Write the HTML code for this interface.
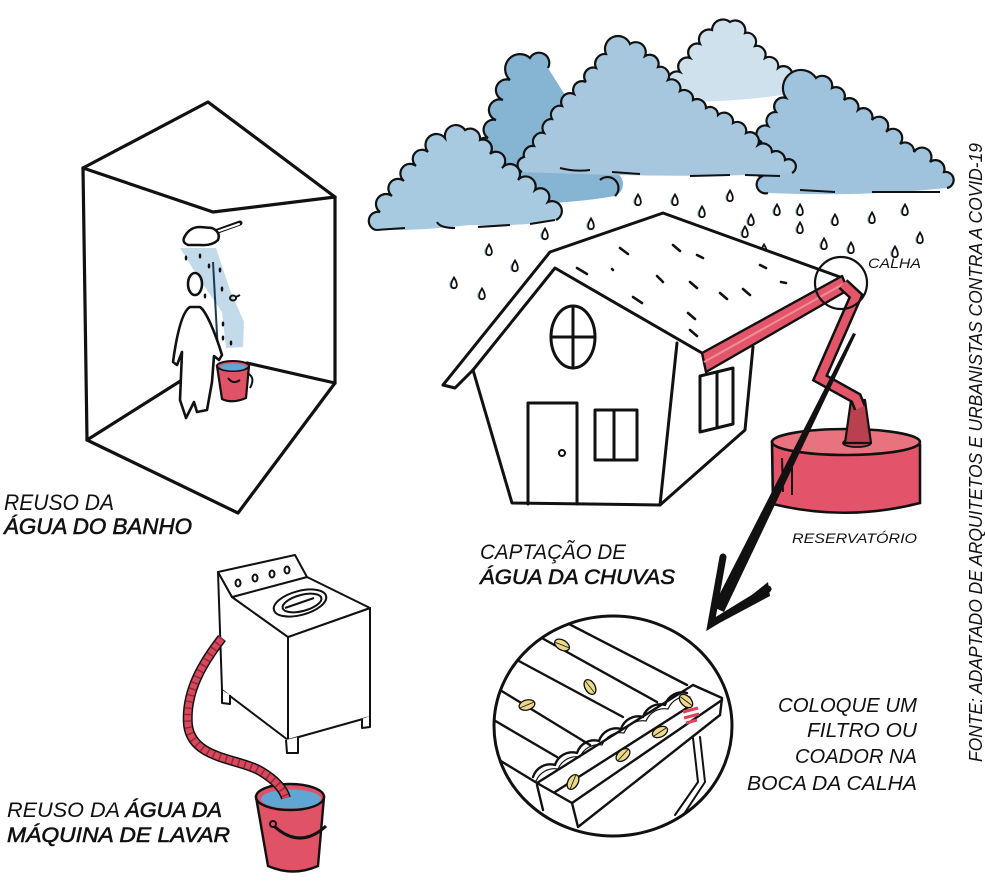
<!DOCTYPE html>
<html><head><meta charset="utf-8"><style>
html,body{margin:0;padding:0;background:#fff;}
svg{display:block;}
text{font-family:"Liberation Sans",sans-serif;font-style:italic;fill:#111;}
</style></head><body>
<svg width="985" height="881" viewBox="0 0 985 881" xmlns="http://www.w3.org/2000/svg">
<defs>
<g id="dr"><ellipse cx="-1.5" cy="1.5" rx="3.5" ry="4.5" fill="#a9cce2"/><path d="M0,-5.5 C2.2,-2 3,0.5 2.8,2.4 A2.8,2.8 0 0 1 -2.8,2.4 C-3,0.5 -2.2,-2 0,-5.5Z" fill="#fff" stroke="#111" stroke-width="1.8"/></g>
<g id="lf"><ellipse cx="0" cy="0" rx="8" ry="5" fill="#ecd98a" stroke="#111" stroke-width="1.3"/><path d="M-7,1 L7,-1" stroke="#111" stroke-width="0.8"/></g>
<clipPath id="cc"><ellipse cx="613" cy="726" rx="118" ry="109"/></clipPath>
</defs>

<!-- ============ SHOWER BOX ============ -->
<g fill="none" stroke="#111" stroke-width="3.2" stroke-linejoin="round" stroke-linecap="round">
<path d="M83,168 L208,102 L335,197"/>
<path d="M83,168 L213,212 L335,197"/>
<path d="M83,168 L87,440"/>
<path d="M335,197 L335,383"/>
<path d="M87,440 L182,380"/>
<path d="M335,383 L247,363"/>
<path d="M87,440 L238,513 L335,383"/>
</g>
<path d="M180,248 L216,248 L230,290 L244,322 L243,347 L226,348 L222,312 L200,280 Z" fill="#c2daea"/>
<path d="M213,262 L218,352" stroke="#1b3a55" stroke-width="2"/>
<path d="M215,232 L240,223" stroke="#111" stroke-width="5" stroke-linecap="round"/>
<path d="M216,232 L239,224" stroke="#fff" stroke-width="2" stroke-linecap="round"/>
<path d="M185,236 Q190,227 200,227 L212,228 Q221,232 218,240 Q212,246 200,245 L188,245 Q181,242 185,236Z" fill="#fff" stroke="#111" stroke-width="2.5"/>
<g fill="#111">
<ellipse cx="186" cy="258" rx="1.3" ry="2.5"/><ellipse cx="200" cy="256" rx="1.3" ry="2.5"/>
<ellipse cx="209" cy="266" rx="1.3" ry="2.5"/><ellipse cx="220" cy="270" rx="1.3" ry="2.5"/>
<ellipse cx="222" cy="289" rx="1.3" ry="2.5"/><ellipse cx="205" cy="296" rx="1.3" ry="2.5"/>
<ellipse cx="223" cy="324" rx="1.3" ry="2.5"/><ellipse cx="223" cy="338" rx="1.3" ry="2.5"/>
<ellipse cx="231" cy="343" rx="1.3" ry="2.5"/>
</g>
<g fill="none" stroke="#111" stroke-width="2"><ellipse cx="233" cy="298" rx="3" ry="2.5"/><path d="M236,297 L240,295"/></g>
<ellipse cx="195" cy="284" rx="7" ry="11" fill="#fff" stroke="#111" stroke-width="2.6"/>
<path d="M190,307 C181,312 176,340 173,362 L177,365 L182,352 L180,400 L186,418 L194,402 L197,412 L207,410 L212,382 L214,356 L219,360 L222,355 C215,332 206,311 200,307 Z" fill="#fff" stroke="#111" stroke-width="2.6" stroke-linejoin="round"/>
<path d="M217,366 L222,399 Q232,404 246,398 L249,366 Z" fill="#e05266" stroke="#111" stroke-width="2.2"/>
<ellipse cx="233" cy="366" rx="16" ry="5" fill="#e05266" stroke="#111" stroke-width="2"/>
<ellipse cx="233" cy="367" rx="13" ry="3.5" fill="#5fa6d3"/>
<path d="M247,373 Q256,377 250,388" fill="none" stroke="#111" stroke-width="2"/>
<path d="M228,378 Q233,385 240,380" fill="none" stroke="#111" stroke-width="2"/>

<!-- ============ CLOUDS ============ -->
<path d="M668,102 A8,8 0 0 1 672,88 A9,9 0 0 1 680,72 A9,9 0 0 1 690,58 A9,9 0 0 1 700,44 A10,10 0 0 1 712,30 A11,11 0 0 1 730,22 A10,10 0 0 1 745,33 A9,9 0 0 1 755,46 A9,9 0 0 1 765,58 A9,9 0 0 1 778,68 A9,9 0 0 1 792,78 A8,8 0 0 1 805,90 Q760,102 668,102 Z" fill="#cfe1ed"/>
<path d="M668,102 A8,8 0 0 1 672,88 A9,9 0 0 1 680,72 A9,9 0 0 1 690,58 A9,9 0 0 1 700,44 A10,10 0 0 1 712,30 A11,11 0 0 1 730,22 A10,10 0 0 1 745,33 A9,9 0 0 1 755,46 A9,9 0 0 1 765,58 A9,9 0 0 1 778,68 A9,9 0 0 1 792,78 A8,8 0 0 1 805,90" fill="none" stroke="#111" stroke-width="2.2"/>
<path d="M460,205 A9,9 0 0 1 464,188 A9,9 0 0 1 472,172 A9,9 0 0 1 480,156 A10,10 0 0 1 488,138 A10,10 0 0 1 496,120 A10,10 0 0 1 503,100 A10,10 0 0 1 510,80 A12,12 0 0 1 530,58 A10,10 0 0 1 548,68 L565,95 L605,172 A8,8 0 0 1 615,196 Q560,206 460,205 Z" fill="#86b4d3"/>
<path d="M460,205 A9,9 0 0 1 464,188 A9,9 0 0 1 472,172 A9,9 0 0 1 480,156 A10,10 0 0 1 488,138 A10,10 0 0 1 496,120 A10,10 0 0 1 503,100 A10,10 0 0 1 510,80 A12,12 0 0 1 530,58 A10,10 0 0 1 548,68" fill="none" stroke="#111" stroke-width="2.2"/>
<path d="M600,180 A8,8 0 0 1 615,196" fill="none" stroke="#111" stroke-width="2.2"/>
<path d="M768,193 A8,8 0 0 1 763,176 A8,8 0 0 1 760,160 A8,8 0 0 1 762,142 A8,8 0 0 1 768,126 A9,9 0 0 1 776,112 A9,9 0 0 1 786,98 A12,12 0 0 1 816,78 A10,10 0 0 1 832,88 A9,9 0 0 1 844,100 A9,9 0 0 1 858,110 A9,9 0 0 1 872,120 A9,9 0 0 1 886,132 A9,9 0 0 1 900,144 A9,9 0 0 1 914,152 A9,9 0 0 1 930,162 A9,9 0 0 1 944,172 A7,7 0 0 1 947,188 Q860,197 768,193 Z" fill="#9fc3dc"/>
<path d="M768,193 A8,8 0 0 1 763,176 A8,8 0 0 1 760,160 A8,8 0 0 1 762,142 A8,8 0 0 1 768,126 A9,9 0 0 1 776,112 A9,9 0 0 1 786,98 A12,12 0 0 1 816,78 A10,10 0 0 1 832,88 A9,9 0 0 1 844,100 A9,9 0 0 1 858,110 A9,9 0 0 1 872,120 A9,9 0 0 1 886,132 A9,9 0 0 1 900,144 A9,9 0 0 1 914,152 A9,9 0 0 1 930,162 A9,9 0 0 1 944,172 A7,7 0 0 1 947,188" fill="none" stroke="#111" stroke-width="2.2"/>
<path d="M872,192 L940,192 M800,190 L835,192" stroke="#111" stroke-width="2" fill="none"/>
<path d="M522,172 A8,8 0 0 1 524,157 A9,9 0 0 1 534,146 A9,9 0 0 1 544,133 A9,9 0 0 1 552,119 A9,9 0 0 1 562,106 A9,9 0 0 1 574,94 A9,9 0 0 1 586,82 A9,9 0 0 1 596,68 A10,10 0 0 1 606,54 A12,12 0 0 1 630,44 A10,10 0 0 1 645,56 A9,9 0 0 1 658,67 A9,9 0 0 1 668,80 A9,9 0 0 1 680,91 A9,9 0 0 1 693,100 A9,9 0 0 1 706,108 A8,8 0 0 1 718,115 A9,9 0 0 1 733,123 A9,9 0 0 1 746,133 A9,9 0 0 1 758,145 A9,9 0 0 1 772,152 A9,9 0 0 1 785,160 A7,7 0 0 1 792,173 Q700,179 522,172 Z" fill="#a6c7dd"/>
<path d="M522,172 A8,8 0 0 1 524,157 A9,9 0 0 1 534,146 A9,9 0 0 1 544,133 A9,9 0 0 1 552,119 A9,9 0 0 1 562,106 A9,9 0 0 1 574,94 A9,9 0 0 1 586,82 A9,9 0 0 1 596,68 A10,10 0 0 1 606,54 A12,12 0 0 1 630,44 A10,10 0 0 1 645,56 A9,9 0 0 1 658,67 A9,9 0 0 1 668,80 A9,9 0 0 1 680,91 A9,9 0 0 1 693,100 A9,9 0 0 1 706,108 A8,8 0 0 1 718,115 A9,9 0 0 1 733,123 A9,9 0 0 1 746,133 A9,9 0 0 1 758,145 A9,9 0 0 1 772,152 A9,9 0 0 1 785,160 A7,7 0 0 1 792,173" fill="none" stroke="#111" stroke-width="2.2"/>
<path d="M560,168 Q575,172 590,170 M612,172 L640,174 M690,176 L730,175 M745,175 L780,176" stroke="#111" stroke-width="2" fill="none"/>
<path d="M376,230 A9,9 0 0 1 380,212 A9,9 0 0 1 392,196 A9,9 0 0 1 404,181 A9,9 0 0 1 416,166 A9,9 0 0 1 428,152 A10,10 0 0 1 445,138 A11,11 0 0 1 465,130 A10,10 0 0 1 480,140 A9,9 0 0 1 490,154 A9,9 0 0 1 502,168 A10,10 0 0 1 518,180 A10,10 0 0 1 535,190 A9,9 0 0 1 548,202 A9,9 0 0 1 556,220 Q520,227 470,225 Q420,231 376,230 Z" fill="#a8cae0"/>
<path d="M376,230 A9,9 0 0 1 380,212 A9,9 0 0 1 392,196 A9,9 0 0 1 404,181 A9,9 0 0 1 416,166 A9,9 0 0 1 428,152 A10,10 0 0 1 445,138 A11,11 0 0 1 465,130 A10,10 0 0 1 480,140 A9,9 0 0 1 490,154 A9,9 0 0 1 502,168 A10,10 0 0 1 518,180 A10,10 0 0 1 535,190 A9,9 0 0 1 548,202 A9,9 0 0 1 556,220" fill="none" stroke="#111" stroke-width="2.2"/>
<path d="M376,230 L405,228 M437,222 Q440,228 455,228 M478,227 L510,225 M530,224 L555,220" stroke="#111" stroke-width="2" fill="none"/>

<!-- ============ RAIN ============ -->
<use href="#dr" x="638" y="200"/><use href="#dr" x="675" y="200"/><use href="#dr" x="702" y="212"/>
<use href="#dr" x="730" y="196"/><use href="#dr" x="751" y="220"/><use href="#dr" x="777" y="210"/>
<use href="#dr" x="800" y="210"/><use href="#dr" x="800" y="228"/><use href="#dr" x="835" y="220"/>
<use href="#dr" x="872" y="218"/><use href="#dr" x="824" y="244"/><use href="#dr" x="851" y="248"/>
<use href="#dr" x="764" y="250"/><use href="#dr" x="718" y="256"/><use href="#dr" x="673" y="242"/>
<use href="#dr" x="636" y="238"/><use href="#dr" x="591" y="224"/><use href="#dr" x="545" y="234"/>
<use href="#dr" x="489" y="250"/><use href="#dr" x="515" y="266"/><use href="#dr" x="454" y="283"/>
<use href="#dr" x="482" y="294"/><use href="#dr" x="764" y="278"/><use href="#dr" x="800" y="275"/>
<use href="#dr" x="905" y="210"/><use href="#dr" x="920" y="238"/><use href="#dr" x="895" y="252"/>
<use href="#dr" x="745" y="232"/>

<!-- ============ HOUSE ============ -->
<polygon points="473,370 555,268 677,343 660,505 512,503" fill="#fff"/>
<polygon points="677,343 753,347 745,430 660,505" fill="#fff"/>
<polygon points="443,385 550,252 663,213 840,277 702,353 555,268 473,370 455,388" fill="#fff"/>
<g fill="none" stroke="#111" stroke-width="3" stroke-linejoin="round" stroke-linecap="round">
<path d="M443,385 L550,252 L663,213 L840,277"/>
<path d="M473,370 L555,268 L702,353"/>
<path d="M443,385 L455,388 L473,370"/>
<path d="M473,370 L512,503 L660,505 L745,430 L753,347"/>
<path d="M677,343 L660,505"/>
<ellipse cx="573" cy="337" rx="22" ry="31"/>
<path d="M573,307 L573,368 M551,337 L595,337"/>
<path d="M528,504 L528,403 L577,403 L577,504"/>
<path d="M595,460 L595,410 L637,410 L637,460 Z M614,410 L614,460"/>
<path d="M700,376 L733,368 L733,424 L700,432 Z M717,372 L717,428"/>
</g>
<circle cx="562" cy="453" r="3" fill="none" stroke="#111" stroke-width="2"/>
<g stroke="#111" stroke-width="2.6" stroke-linecap="round">
<path d="M577,268 L587,274"/><path d="M612,269 L613,270"/><path d="M620,248 L628,254"/>
<path d="M657,276 L663,282"/><path d="M633,297 L642,303"/><path d="M690,282 L697,288"/>
<path d="M720,293 L727,299"/><path d="M743,289 L750,295"/><path d="M688,313 L695,319"/>
<path d="M690,330 L697,336"/><path d="M673,245 L680,251"/><path d="M781,282 L786,283"/>
<path d="M697,255 L703,258"/><path d="M760,265 L766,268"/>
</g>
<polygon points="702,353 842,276 848,290 706,372" fill="#e3566a" stroke="#111" stroke-width="2.4" stroke-linejoin="round"/>
<path d="M704,362 L845,283" stroke="#f08d9a" stroke-width="2"/>

<!-- ============ RESERVOIR ============ -->
<path d="M772,442 L773,504 Q846,522 920,503 L920,445 Z" fill="#e3546a" stroke="#111" stroke-width="2.6"/>
<ellipse cx="846" cy="442" rx="74" ry="13" fill="#e9727f" stroke="#111" stroke-width="2.6"/>
<path d="M782,458 L783,492 M792,462 L792,495" stroke="#111" stroke-width="2"/>
<ellipse cx="857" cy="443" rx="14" ry="4" fill="#c94659" stroke="#111" stroke-width="1.8"/>
<polygon points="851,400 865,400 871,443 845,443" fill="#b8404f" stroke="#111" stroke-width="2.2" stroke-linejoin="round"/>
<path d="M843,284 L856,296 L820,378 L856,398 L860,408" fill="none" stroke="#111" stroke-width="13" stroke-linejoin="miter"/>
<path d="M843,284 L856,296 L820,378 L856,398 L860,408" fill="none" stroke="#e3566a" stroke-width="8" stroke-linejoin="miter"/>
<circle cx="841" cy="283" r="26" fill="none" stroke="#111" stroke-width="2.2"/>

<!-- ============ ARROW ============ -->
<polygon points="853,333 856,334 724,612 713,607" fill="#111"/>
<path d="M723,557 L711,624 L768,589" fill="none" stroke="#111" stroke-width="7" stroke-linejoin="miter" stroke-linecap="round"/>
<polygon points="768,582 770,596 712,627" fill="#111"/>

<!-- ============ MAGNIFIER ============ -->
<ellipse cx="613" cy="726" rx="119" ry="110" fill="#fff"/>
<g clip-path="url(#cc)" fill="none" stroke="#111" stroke-width="2.4" stroke-linecap="round" stroke-linejoin="round">
<path d="M567,623 L687,685"/>
<path d="M540,637 L657,702"/>
<path d="M517,660 L623,717"/>
<path d="M500,690 L590,745"/>
<path d="M480,712 L557,757"/>
<path d="M540,637 L567,623"/>
<path d="M533,777 a18,18 0 0 1 22,-12 a18,18 0 0 1 22,-12 a18,18 0 0 1 22,-12 a18,18 0 0 1 22,-12 a18,18 0 0 1 22,-12 a18,18 0 0 1 22,-12 a18,18 0 0 1 22,-12"/>
<path d="M536,781 a20,20 0 0 1 22,-12 a20,20 0 0 1 22,-12 a20,20 0 0 1 22,-12 a20,20 0 0 1 22,-12 a20,20 0 0 1 22,-12 a20,20 0 0 1 22,-12 a20,20 0 0 1 22,-12" stroke-width="1.2"/>
<path d="M537,783 L693,685"/>
<path d="M693,685 L722,698 L720,715"/>
<path d="M537,783 L572,803 L722,700"/>
<path d="M572,803 L578,827 L720,715"/>
<path d="M555,792 L690,706"/>
<path d="M486,752 L537,783"/>
<path d="M537,785 L543,810"/>
<path d="M693,738 L698,782 L675,815 M700,737 L705,782 L682,817" stroke-width="2"/>
</g>
<g clip-path="url(#cc)">
<use href="#lf" transform="translate(562,645) rotate(30)"/>
<use href="#lf" transform="translate(590,687) rotate(60)"/>
<use href="#lf" transform="translate(527,705) rotate(-15)"/>
<use href="#lf" transform="translate(623,755) rotate(-40)"/>
<use href="#lf" transform="translate(660,732) rotate(-25)"/>
<use href="#lf" transform="translate(573,782) rotate(-60)"/>
<use href="#lf" transform="translate(686,701) rotate(45)"/>
<path d="M683,712 L698,708 M684,718 L699,714 M686,723 L697,720" stroke="#e3405a" stroke-width="3.2"/>
</g>
<ellipse cx="613" cy="726" rx="119" ry="110" fill="none" stroke="#111" stroke-width="3"/>

<!-- ============ WASHING MACHINE ============ -->
<g fill="#fff" stroke="#111" stroke-width="2" stroke-linejoin="round">
<polygon points="218,572 232,597 288,637 288,740 222,690"/>
<polygon points="288,637 370,608 370,717 288,740"/>
<polygon points="232,597 307,577 370,608 288,637"/>
<polygon points="218,572 295,555 307,577 232,597"/>
<ellipse cx="300" cy="603" rx="27" ry="12" transform="rotate(-15 300 603)"/>
<ellipse cx="302" cy="603" rx="20" ry="8" transform="rotate(-15 302 603)"/>
<path d="M285,608 L314,598" fill="none"/>
<ellipse cx="238" cy="583" rx="2.5" ry="3.5"/>
<ellipse cx="255" cy="578" rx="2.5" ry="3.5"/>
<ellipse cx="272" cy="574" rx="2.5" ry="3.5"/>
<ellipse cx="287" cy="570" rx="2.5" ry="3.5"/>
<path d="M222,690 L222,703 L230,704 L230,695"/>
<path d="M286,740 L287,753 L298,753 L298,737"/>
<path d="M362,719 L362,728 L370,727 L370,716"/>
</g>
<path d="M256,797 L268,866 Q293,877 318,866 L324,797 Z" fill="#e05266" stroke="#111" stroke-width="2.4"/>
<ellipse cx="290" cy="797" rx="34" ry="13" fill="#e05266" stroke="#111" stroke-width="2.4"/>
<ellipse cx="291" cy="799" rx="30" ry="9.5" fill="#5fa6d3"/>
<path d="M274,826 Q300,850 326,826" fill="none" stroke="#111" stroke-width="3"/>
<circle cx="273" cy="824" r="3" fill="none" stroke="#111" stroke-width="2"/>
<path d="M222,638 C205,660 185,690 188,725 C192,760 240,758 262,772 C275,780 283,788 286,798" fill="none" stroke="#111" stroke-width="10"/>
<path d="M222,638 C205,660 185,690 188,725 C192,760 240,758 262,772 C275,780 283,788 286,798" fill="none" stroke="#d9485c" stroke-width="7"/>
<path d="M222,638 C205,660 185,690 188,725 C192,760 240,758 262,772 C275,780 283,788 286,798" fill="none" stroke="#8e2a38" stroke-width="7" stroke-dasharray="1.5 5"/>

<!-- ============ TEXT ============ -->
<text x="4" y="510" font-size="22" textLength="110" lengthAdjust="spacingAndGlyphs">REUSO DA</text>
<text x="4" y="534" font-size="22" textLength="188" lengthAdjust="spacingAndGlyphs" stroke="#111" stroke-width="0.6">ÁGUA DO BANHO</text>
<text x="480" y="559" font-size="21" textLength="146" lengthAdjust="spacingAndGlyphs">CAPTAÇÃO DE</text>
<text x="480" y="584" font-size="21" textLength="195" lengthAdjust="spacingAndGlyphs" stroke="#111" stroke-width="0.6">ÁGUA DA CHUVAS</text>
<text x="7" y="817" font-size="21" textLength="215" lengthAdjust="spacingAndGlyphs"><tspan>REUSO DA </tspan><tspan stroke="#111" stroke-width="0.6">ÁGUA DA</tspan></text>
<text x="7" y="842" font-size="21" textLength="223" lengthAdjust="spacingAndGlyphs" stroke="#111" stroke-width="0.6">MÁQUINA DE LAVAR</text>
<text x="778" y="712" font-size="20" textLength="139" lengthAdjust="spacingAndGlyphs">COLOQUE UM</text>
<text x="807" y="737" font-size="20" textLength="110" lengthAdjust="spacingAndGlyphs">FILTRO OU</text>
<text x="795" y="763" font-size="20" textLength="122" lengthAdjust="spacingAndGlyphs">COADOR NA</text>
<text x="747" y="790" font-size="20" textLength="170" lengthAdjust="spacingAndGlyphs">BOCA DA CALHA</text>
<text x="868" y="268" font-size="14" textLength="53" lengthAdjust="spacingAndGlyphs">CALHA</text>
<text x="792" y="543" font-size="14" textLength="125" lengthAdjust="spacingAndGlyphs">RESERVATÓRIO</text>
<text transform="translate(982,762) rotate(-90)" font-size="18" textLength="619" lengthAdjust="spacingAndGlyphs">FONTE: ADAPTADO DE ARQUITETOS E URBANISTAS CONTRA A COVID-19</text>
</svg>
</body></html>
